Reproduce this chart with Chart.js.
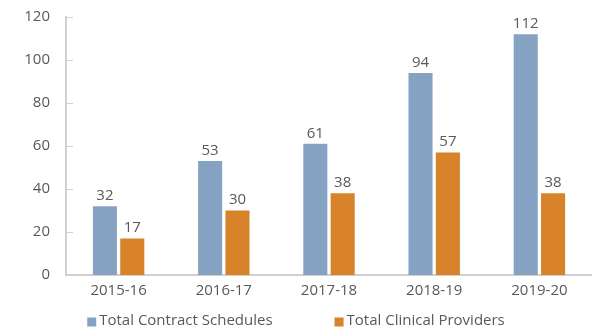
<!DOCTYPE html>
<html>
<head>
<meta charset="utf-8">
<script src="https://cdn.jsdelivr.net/npm/chart.js@4/dist/chart.umd.min.js"></script>
<style>
  html, body { margin: 0; padding: 0; background: #fff; }
  #wrap { width: 592px; height: 331px; }
</style>
</head>
<body>
<div id="wrap"><canvas id="providersChart"></canvas></div>
<script>
// Contract schedules vs clinical providers per financial year
const years = ['2015-16', '2016-17', '2017-18', '2018-19', '2019-20'];
const contractSchedules = [32, 53, 61, 94, 112];
const clinicalProviders = [17, 30, 38, 57, 38];
const yTicks = [0, 20, 40, 60, 80, 100, 120];

const textGrey = '#595959';
const axisGrey = '#d0d0d0';
const fontFamily = "'Open Sans'";

// value labels above each bar
const barValues = {
    id: 'barValues',
    afterDatasetsDraw(chart) {
        const ctx = chart.ctx;
        ctx.save();
        ctx.fillStyle = textGrey;
        ctx.font = '15px ' + fontFamily;
        ctx.textAlign = 'center';
        ctx.textBaseline = 'bottom';
        chart.data.datasets.forEach((ds, i) => {
            chart.getDatasetMeta(i).data.forEach((bar, j) => {
                ctx.fillText(ds.data[j], bar.x, bar.y - 3);
            });
        });
        ctx.restore();
    }
};

// short tick marks pointing into the plot from the y axis
const innerTicks = {
    id: 'innerTicks',
    afterDraw(chart) {
        const ctx = chart.ctx;
        const y = chart.scales.y;
        ctx.save();
        ctx.strokeStyle = axisGrey;
        ctx.lineWidth = 1;
        y.ticks.forEach(t => {
            const py = Math.round(y.getPixelForValue(t.value)) + 0.5;
            ctx.beginPath();
            ctx.moveTo(y.right, py);
            ctx.lineTo(y.right + 7, py);
            ctx.stroke();
        });
        ctx.restore();
    }
};

// legend row along the bottom, wider gap between the two entries
const bottomLegend = {
    id: 'bottomLegend',
    afterDraw(chart) {
        const ctx = chart.ctx;
        const box = 9, textGap = 3, itemGap = 62;
        ctx.save();
        ctx.font = '15px ' + fontFamily;
        ctx.textBaseline = 'middle';
        const items = chart.data.datasets.map(ds => ({
            label: ds.label,
            color: ds.backgroundColor,
            w: box + textGap + ctx.measureText(ds.label).width
        }));
        const total = items.reduce((s, it) => s + it.w, 0) + itemGap * (items.length - 1);
        let x = (chart.width - total) / 2;
        const cy = chart.height - 10;
        items.forEach(it => {
            ctx.fillStyle = it.color;
            ctx.fillRect(x, cy - box / 2 + 1, box, box);
            ctx.fillStyle = textGrey;
            ctx.fillText(it.label, x + box + textGap, cy);
            x += it.w + itemGap;
        });
        ctx.restore();
    }
};

new Chart(document.getElementById('providersChart'), {
    type: 'bar',
    data: {
        labels: years,
        datasets: [{
            label: 'Total Contract Schedules',
            data: contractSchedules,
            backgroundColor: '#86a2c3',
            categoryPercentage: 0.52,
            barPercentage: 0.88
        }, {
            label: 'Total Clinical Providers',
            data: clinicalProviders,
            backgroundColor: '#d8822a',
            categoryPercentage: 0.52,
            barPercentage: 0.88
        }]
    },
    options: {
        responsive: true,
        maintainAspectRatio: false,
        animation: false,
        layout: { padding: { top: 17, right: 0, left: 0, bottom: 24 } },
        plugins: {
            tooltip: { enabled: false },
            legend: { display: false }
        },
        scales: {
            x: {
                grid: { display: false, drawTicks: false },
                border: { color: axisGrey, width: 2 },
                ticks: {
                    color: textGrey,
                    font: { family: fontFamily, size: 15 },
                    padding: 7
                }
            },
            y: {
                min: 0,
                max: 120,
                afterBuildTicks(axis) {
                    axis.ticks = yTicks.map(v => ({ value: v }));
                },
                afterFit(axis) {
                    axis.width = 66;
                    axis.paddingTop = 0;
                },
                grid: { display: false, drawTicks: false },
                border: { color: axisGrey, width: 2 },
                ticks: {
                    color: textGrey,
                    font: { family: fontFamily, size: 15 },
                    padding: 16
                }
            }
        }
    },
    plugins: [barValues, innerTicks, bottomLegend]
});
</script>
</body>
</html>
